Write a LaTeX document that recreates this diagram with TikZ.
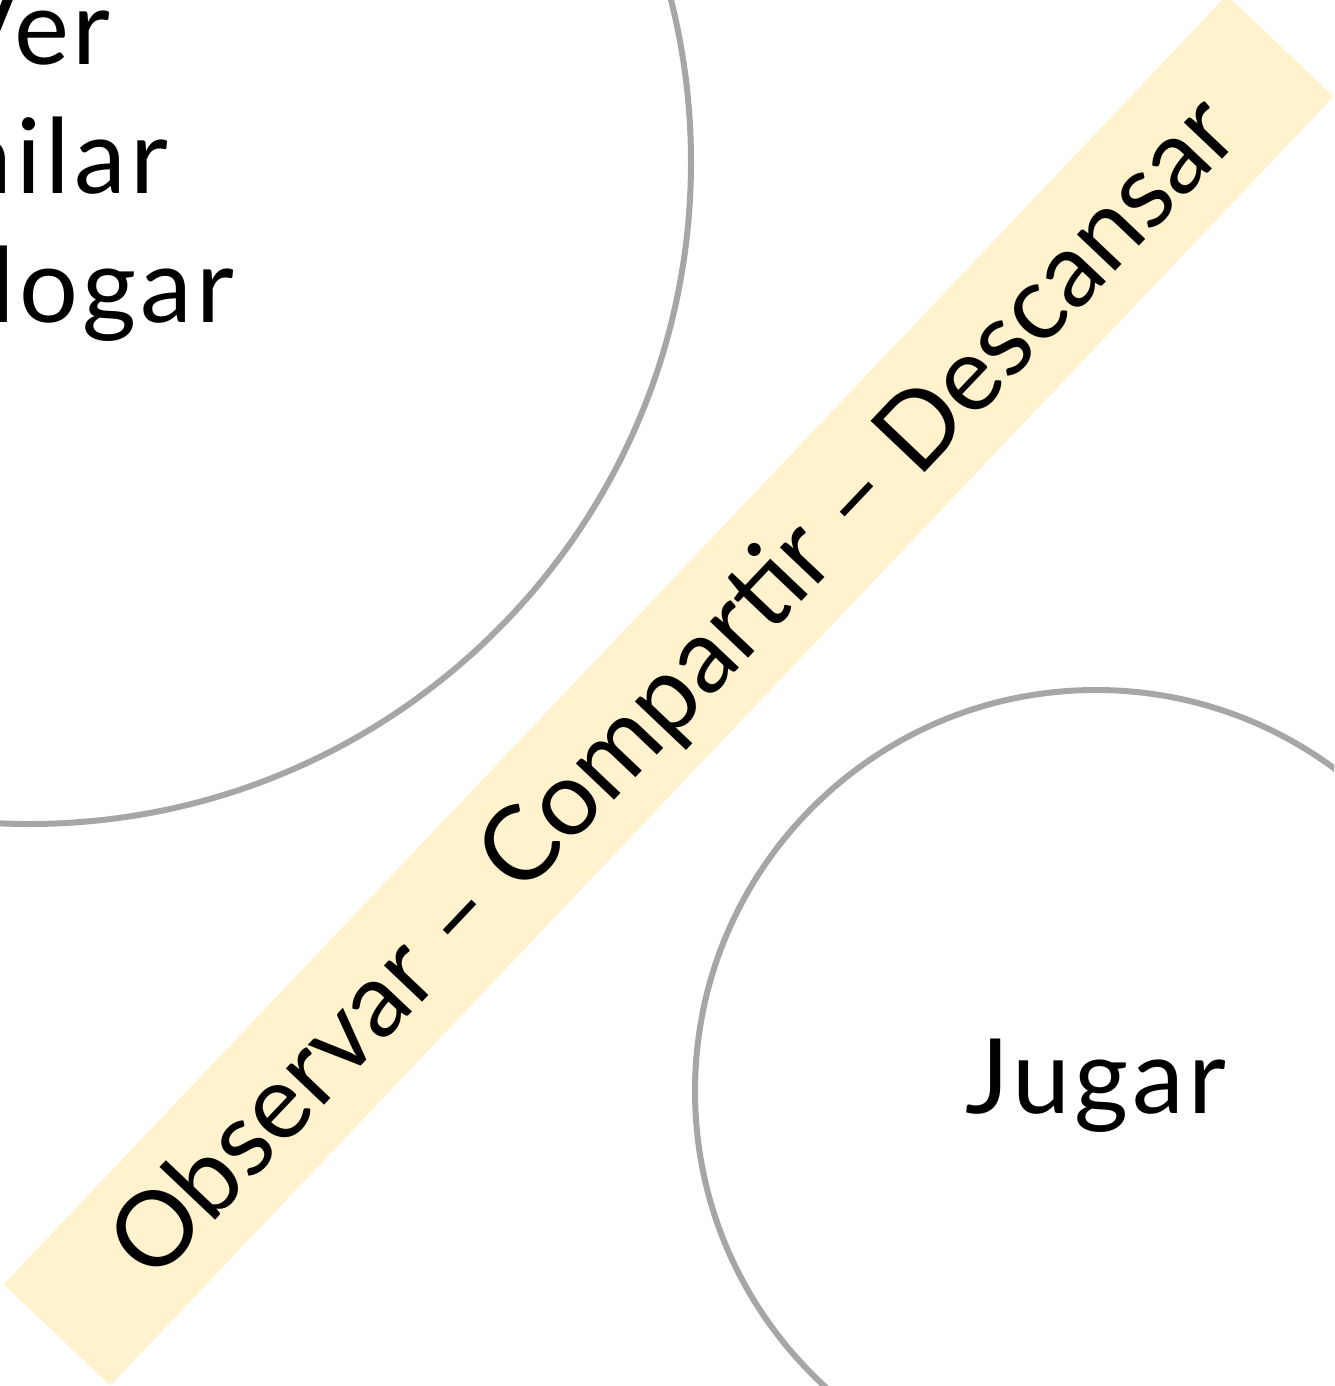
\documentclass[tikz,border=0pt]{standalone}
\usepackage{fontspec}
\setmainfont{Lato}
\newfontfamily\widelato[LetterSpace=4.0]{Lato}
\definecolor{bandfill}{HTML}{FFF2CC}
\definecolor{ringgray}{HTML}{A6A6A6}
\begin{document}
\begin{tikzpicture}[x=1pt,y=-1pt,
  bubble/.style={circle, draw=ringgray, line width=6pt, fill=none, inner sep=0pt},
  lbl/.style={font=\widelato\fontsize{104}{124}\selectfont, inner sep=0pt, anchor=base},
  mottostyle/.style={font=\fontsize{104}{124}\selectfont, inner sep=0pt, anchor=base, rotate=46.5},
  bandbox/.style={fill=bandfill, draw=none, inner sep=0pt, rotate=46.5}
]
\useasboundingbox (0,0) rectangle (1334,1386);
\clip (0,0) rectangle (1334,1386);
\fill[white] (0,0) rectangle (1334,1386);
% circles
\node[bubble, minimum size=1324pt] (big) at (29,162) {};
\node[bubble, minimum size=802pt] (small) at (1096,1091) {};
% band
\node[bandbox, minimum width=1777pt, minimum height=147pt] (band) at (668.6,690.4) {};
% texts
\node[lbl] (ver) at (29,65) {Ver};
\node[lbl] (bailar) at (29,193) {Bailar};
\node[lbl] (dialogar) at (29,322) {Dialogar};
\node[lbl] (jugar) at (1096,1113) {Jugar};
\node[mottostyle] (motto) at (698.5,711) {Observar – Compartir – Descansar};
\end{tikzpicture}
\end{document}
